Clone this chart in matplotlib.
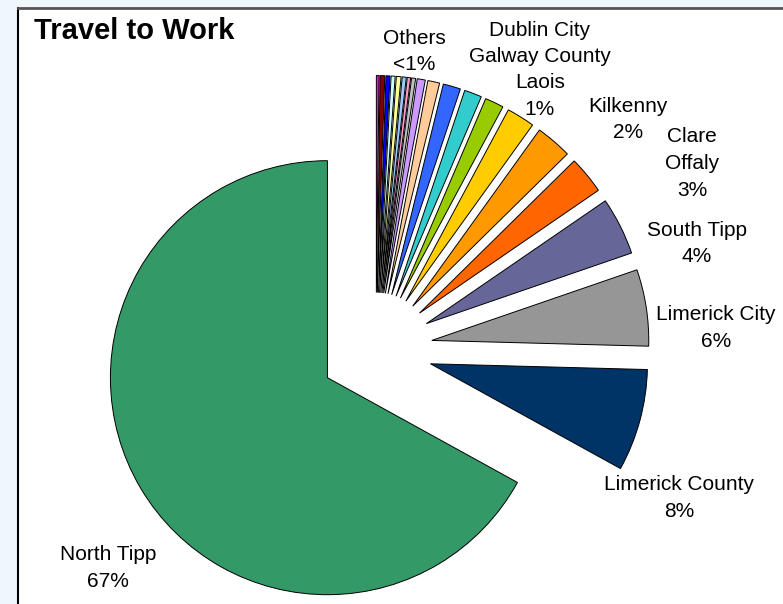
import numpy as np
import matplotlib
matplotlib.use("Agg")
import matplotlib.pyplot as plt
from matplotlib.patches import Rectangle

plt.rcParams['font.family'] = ['Liberation Sans', 'DejaVu Sans']

# slices, clockwise from 12 o'clock (smallest first, as drawn in the original)
areas = ["Other 1", "Other 2", "Other 3", "Other 4", "Other 5", "Other 6", "Other 7", "Other 8",
         "Other 9", "Other 10", "Dublin City", "Galway County", "Laois", "Kilkenny", "Offaly",
         "Clare", "South Tipp", "Limerick City", "Limerick County", "North Tipp"]
shares = [0.2, 0.35, 0.3, 0.3, 0.35, 0.3, 0.25, 0.3,
          0.6, 0.88, 1.3, 1.3, 1.4, 2.1, 2.7,
          2.8, 4.3, 5.7, 7.6, 67.0]
colors = ["#FF00FF", "#800000", "#0000FF", "#CCFFFF", "#FFFF99", "#99CCFF", "#FF99CC", "#C0C0C0",
          "#CC99FF", "#FFCC99", "#3366FF", "#33CCCC", "#99CC00", "#FFCC00", "#FF9900",
          "#FF6600", "#666699", "#969696", "#003366", "#339966"]

label_lines = [["Others", "<1%"],
               ["Dublin City", "Galway County", "Laois", "1%"],
               ["Kilkenny", "2%"],
               ["Clare", "Offaly", "3%"],
               ["South Tipp", "4%"],
               ["Limerick City", "6%"],
               ["Limerick County", "8%"],
               ["North Tipp", "67%"]]
# centre x and first-line y of each label, in pixels from top-left
label_pos = [(414, 38), (540, 30), (628, 106), (692, 137), (697, 230), (716, 315),
             (679, 485), (108, 555)]
line_gap = 26.5

W, H = 783, 604
cx, cy, R = 376, 349, 217  # pie centre and radius in pixels

fig = plt.figure(figsize=(W / 100, H / 100), dpi=100)
fig.patch.set_facecolor("#EEF7FB")
fig.patches.append(Rectangle((18 / W, 0), 1, 1 - 8 / H, transform=fig.transFigure,
                             facecolor="white", edgecolor="none", zorder=-10))
fig.add_artist(plt.Line2D([18 / W, 18 / W], [0, 1 - 8 / H], color="black", lw=1.5, zorder=-5))
fig.add_artist(plt.Line2D([18 / W, 1], [1 - 8 / H, 1 - 8 / H], color="#555555", lw=2, zorder=-5))

ax = fig.add_axes([0, 0, 1, 1])
ax.set_facecolor("none")
ax.set_zorder(1)
ax.pie(shares, colors=colors, startangle=90, counterclock=False,
       explode=[0.26] * len(shares), radius=1.0,
       wedgeprops=dict(edgecolor="black", linewidth=0.7))
ax.set_xlim(-cx / R, (W - cx) / R)
ax.set_ylim(-(H - cy) / R, cy / R)
ax.set_aspect("equal")
ax.axis("off")


def px(x, y):
    return (x - cx) / R, (cy - y) / R


for lines, (x, y) in zip(label_lines, label_pos):
    for i, line in enumerate(lines):
        ax.text(*px(x, y + i * line_gap), line, ha="center", va="center",
                fontsize=15, color="black")

fig.text(34 / W, 1 - 31 / H, "Travel to Work", fontsize=21, fontweight="bold",
         ha="left", va="center", zorder=2)

fig.savefig("out.png", dpi=100)
